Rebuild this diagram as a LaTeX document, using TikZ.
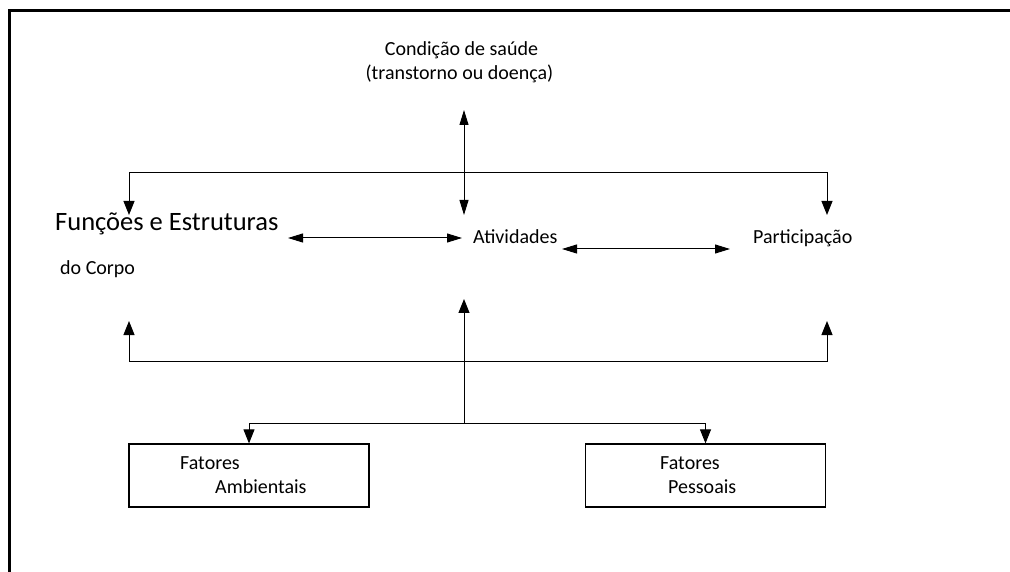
\documentclass[tikz,border=0pt]{standalone}
\usepackage{fontspec}
\setmainfont{Carlito}
\usetikzlibrary{arrows.meta,positioning}

\tikzset{
  lbl/.style={anchor=base west, inner sep=0pt, font=\fontsize{20}{24}\selectfont},
  biglbl/.style={anchor=base west, inner sep=0pt, font=\fontsize{26.5}{32}\selectfont},
  fatorbox/.style={draw, line width=1.2pt, minimum width=240pt, minimum height=63pt, inner sep=0pt},
  seta/.style={-{Triangle[width=11pt,length=14pt]}, line width=1pt},
  setadupla/.style={{Triangle[width=9pt,length=15pt]}-{Triangle[width=9pt,length=15pt]}, line width=1pt},
}

\begin{document}
\begin{tikzpicture}[x=1pt,y=-1pt]
\useasboundingbox (0,0) rectangle (1010,572);

% moldura
\draw[line width=3pt] (9.5,574) -- (9.5,11) -- (1012,11);

% textos
\node[lbl, anchor=base] (saude) at (461.5,56) {Condição de saúde};
\node[lbl, anchor=base] (transtorno) at (459.5,80) {(transtorno ou doença)};
\node[biglbl] (funcoes) at (55,231) {Funções e Estruturas};
\node[lbl] (corpo) at (60,275) {do Corpo};
\node[lbl] (atividades) at (473,244) {Atividades};
\node[lbl] (participacao) at (753,244) {Participação};

% caixas de fatores
\node[fatorbox] (amb) at (249,475.5) {};
\node[fatorbox] (pes) at (705.5,475.5) {};
\node[lbl] (amb_a) at (180,469) {Fatores};
\node[lbl] (amb_b) at (215,493) {Ambientais};
\node[lbl] (pes_a) at (660,469) {Fatores};
\node[lbl] (pes_b) at (668,493) {Pessoais};

% pontos de ligacao
\coordinate (saude_in) at (464,110);
\coordinate (topo) at (464,173);
\coordinate (ativ_top) at (464,215);
\coordinate (func_top) at (129,215);
\coordinate (part_top) at (827,215);
\coordinate (func_dir) at (288,238);
\coordinate (ativ_esq) at (462,238);
\coordinate (ativ_dir) at (562,249);
\coordinate (part_esq) at (730,249);
\coordinate (base) at (464,361);
\coordinate (func_bot) at (129,321);
\coordinate (part_bot) at (827,321);
\coordinate (ativ_bot) at (464,299);
\coordinate (garfo) at (464,423);

\draw[setadupla] (saude_in) -- (ativ_top);
\draw[seta] (topo) -| (func_top);
\draw[seta] (topo) -| (part_top);
\draw[setadupla] (func_dir) -- (ativ_esq);
\draw[setadupla] (ativ_dir) -- (part_esq);

\draw[seta] (base) -| (func_bot);
\draw[seta] (base) -| (part_bot);
\draw[seta] (garfo) -- (ativ_bot);
\draw[seta] (garfo) -| (amb.north);
\draw[seta] (garfo) -| (pes.north);

\end{tikzpicture}
\end{document}
